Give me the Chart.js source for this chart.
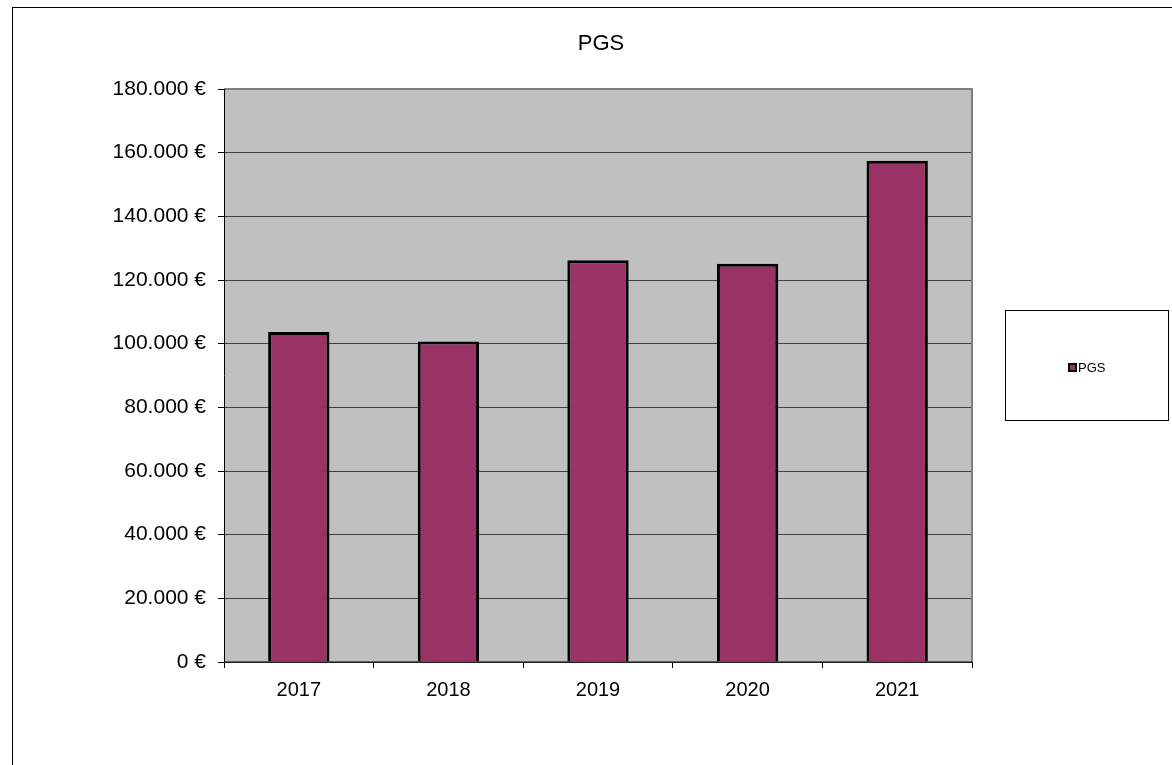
<!DOCTYPE html>
<html>
<head>
<meta charset="utf-8">
<script src="https://cdn.jsdelivr.net/npm/chart.js@4/dist/chart.umd.min.js"></script>
<style>
  html, body { margin: 0; padding: 0; background: #fff; }
  #wrap { position: relative; width: 1172px; height: 765px; }
</style>
</head>
<body>
<div id="wrap"><canvas id="pgs-chart"></canvas></div>
<script>
// data
const years = ['2017', '2018', '2019', '2020', '2021'];
const pgsValues = [103700, 100700, 126200, 125100, 157500];
const seriesName = 'PGS';
const chartTitle = 'PGS';

const FONT = '"Liberation Sans", Arial, sans-serif';

function euro(v) {
    return v.toLocaleString('de-DE') + ' €';
}

// frame, plot background, title and legend box, drawn like the old office chart
const officeFrame = {
    id: 'officeFrame',
    beforeDraw(chart) {
        const { ctx, chartArea: a } = chart;
        ctx.save();
        ctx.fillStyle = '#fff';
        ctx.fillRect(0, 0, chart.width, chart.height);
        ctx.strokeStyle = '#000';
        ctx.lineWidth = 1;
        ctx.strokeRect(12.5, 7.5, chart.width, chart.height);
        ctx.fillStyle = '#c0c0c0';
        ctx.fillRect(a.left, a.top, a.right - a.left, a.bottom - a.top);
        ctx.restore();
    },
    afterDatasetsDraw(chart) {
        const { ctx, chartArea: a } = chart;
        ctx.save();
        // top and right plot border
        ctx.strokeStyle = '#808080';
        ctx.lineWidth = 2;
        ctx.beginPath();
        ctx.moveTo(a.left, a.top);
        ctx.lineTo(a.right, a.top);
        ctx.lineTo(a.right, a.bottom);
        ctx.stroke();
        // left and bottom axis lines
        ctx.strokeStyle = '#000';
        ctx.lineWidth = 1;
        ctx.beginPath();
        ctx.moveTo(a.left + 0.5, a.top);
        ctx.lineTo(a.left + 0.5, a.bottom);
        ctx.lineTo(a.right, a.bottom);
        ctx.stroke();

        // title
        ctx.fillStyle = '#000';
        ctx.font = '22px ' + FONT;
        ctx.textAlign = 'center';
        ctx.textBaseline = 'middle';
        ctx.fillText(chartTitle, (a.left + a.right) / 2 + 3, 44);

        // legend box
        ctx.lineWidth = 1;
        ctx.strokeStyle = '#000';
        ctx.fillStyle = '#fff';
        ctx.fillRect(1005.5, 310.5, 163, 110);
        ctx.strokeRect(1005.5, 310.5, 163, 110);
        const ds = chart.data.datasets[0];
        ctx.fillStyle = '#000';
        ctx.fillRect(1068, 363, 9, 9);
        ctx.fillStyle = ds.backgroundColor;
        ctx.fillRect(1070, 365, 5, 5);
        ctx.fillStyle = '#000';
        ctx.font = '13px ' + FONT;
        ctx.textAlign = 'left';
        ctx.fillText(ds.label, 1078, 368);
        ctx.restore();
    }
};

new Chart(document.getElementById('pgs-chart'), {
    type: 'bar',
    data: {
        labels: years,
        datasets: [{
            label: seriesName,
            data: pgsValues,
            backgroundColor: '#993366',
            borderColor: '#000',
            borderWidth: 3,
            barPercentage: 0.41,
            categoryPercentage: 1
        }]
    },
    options: {
        responsive: true,
        maintainAspectRatio: false,
        animation: false,
        layout: { padding: { top: 89, right: 200, left: 0, bottom: 0 } },
        plugins: {
            legend: { display: false },
            title: { display: false },
            tooltip: { enabled: false }
        },
        scales: {
            x: {
                offset: true,
                afterFit(scale) { scale.height = 103; },
                grid: {
                    offset: true,
                    drawOnChartArea: false,
                    tickLength: 6,
                    color: '#000'
                },
                border: { display: false },
                ticks: {
                    color: '#000',
                    padding: 10,
                    font: { family: FONT, size: 20 }
                }
            },
            y: {
                min: 0,
                max: 180000,
                afterFit(scale) { scale.width = 224; },
                grid: {
                    color: '#404040',
                    tickLength: 6,
                    tickColor: '#000'
                },
                border: { display: false },
                ticks: {
                    stepSize: 20000,
                    color: '#000',
                    padding: 12,
                    font: { family: FONT, size: 21 },
                    callback: (v) => euro(v)
                }
            }
        }
    },
    plugins: [officeFrame]
});
</script>
</body>
</html>
